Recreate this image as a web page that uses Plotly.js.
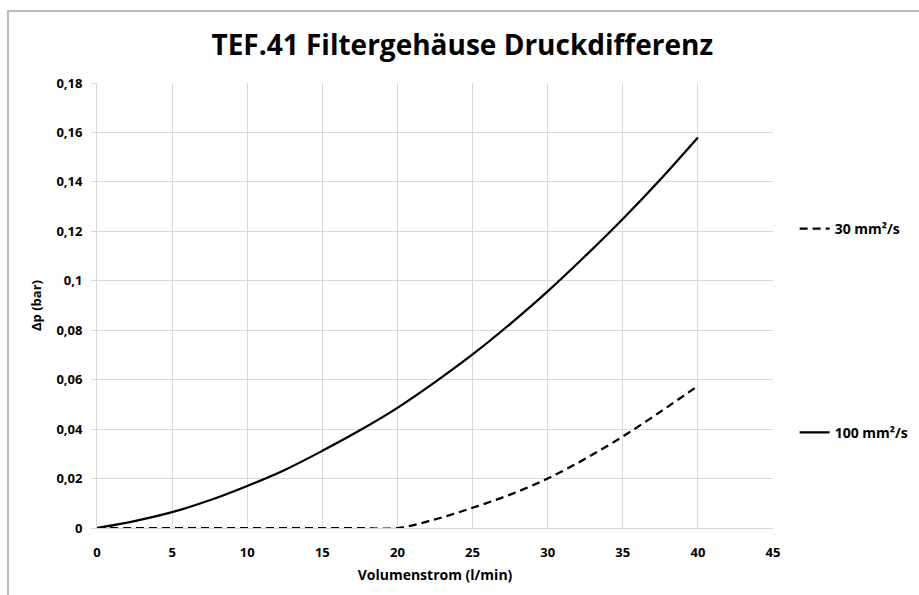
<!DOCTYPE html>
<html>
<head>
<meta charset="utf-8">
<script src="https://cdn.plot.ly/plotly-3.0.1.min.js"></script>
<style>html,body{margin:0;padding:0;background:#fff;}#chart{width:919px;height:595px;}</style>
</head>
<body>
<div id="chart"></div>
<script>
// Data
const flow = [0, 2.5, 5, 7.5, 10, 12.5, 15, 17.5, 20, 22.5, 25, 27.5, 30, 32.5, 35, 37.5, 40];
const dp30 = [0, 0, 0, 0, 0, 0, 0, 0, 0, 0.0035, 0.0082, 0.0135, 0.0200, 0.0280, 0.0370, 0.0470, 0.0575];
const dp100 = [0, 0.0028, 0.0064, 0.0112, 0.0170, 0.0235, 0.0312, 0.0395, 0.0486, 0.0590, 0.0702, 0.0825, 0.0957, 0.1100, 0.1250, 0.1410, 0.1580];
const seriesNames = ["30 mm²/s", "100 mm²/s"];
const xTickVals = [0, 5, 10, 15, 20, 25, 30, 35, 40, 45];
const yTickVals = [0, 0.02, 0.04, 0.06, 0.08, 0.1, 0.12, 0.14, 0.16, 0.18];
const yTickText = ["0", "0,02", "0,04", "0,06", "0,08", "0,1", "0,12", "0,14", "0,16", "0,18"];

const FONT = "Open Sans, Noto Sans, sans-serif";

const traces = [
  {
    x: flow, y: dp30, name: seriesNames[0], type: "scatter", mode: "lines",
    line: {color: "#000000", width: 2.25, dash: "8px,5px", shape: "spline"},
    legend: "legend"
  },
  {
    x: flow, y: dp100, name: seriesNames[1], type: "scatter", mode: "lines",
    line: {color: "#000000", width: 2.25, shape: "spline"},
    legend: "legend2"
  }
];

const legendCommon = {
  xref: "paper", yref: "paper", xanchor: "left", yanchor: "middle",
  bgcolor: "rgba(0,0,0,0)", borderwidth: 0,
  font: {family: FONT, size: 14, color: "#000", weight: "bold"},
  itemwidth: 30, tracegroupgap: 0
};

const layout = {
  width: 919, height: 595,
  paper_bgcolor: "#ffffff", plot_bgcolor: "#ffffff",
  margin: {l: 97, r: 146, t: 83, b: 67, autoexpand: false},
  separators: ",.",
  title: {
    text: "TEF.41 Filtergehäuse Druckdifferenz",
    font: {family: FONT, size: 28, color: "#000", weight: "bold"},
    xref: "container", x: 0.503, xanchor: "center",
    yref: "container", y: 0.924, yanchor: "middle"
  },
  xaxis: {
    range: [0, 45], tickvals: xTickVals, ticks: "",
    ticklabelstandoff: 12, automargin: false,
    showgrid: true, gridcolor: "#d9d9d9", gridwidth: 1,
    showline: true, linecolor: "#d9d9d9", linewidth: 1,
    zeroline: false,
    tickfont: {family: FONT, size: 13, color: "#000", weight: "bold"},
    title: {text: "Volumenstrom (l/min)", font: {family: FONT, size: 14, color: "#000", weight: "bold"}, standoff: 10}
  },
  yaxis: {
    range: [0, 0.18], tickvals: yTickVals, ticktext: yTickText,
    ticks: "outside", ticklen: 5, tickcolor: "#d9d9d9",
    ticklabelstandoff: 6, automargin: false,
    showgrid: true, gridcolor: "#d9d9d9", gridwidth: 1,
    showline: true, linecolor: "#d9d9d9", linewidth: 1,
    zeroline: false,
    tickfont: {family: FONT, size: 13, color: "#000", weight: "bold"},
    title: {text: "Δp (bar)", font: {family: FONT, size: 13, color: "#000", weight: "bold"}, standoff: 11}
  },
  showlegend: true,
  legend: Object.assign({x: 1.032, y: 0.672}, legendCommon),
  legend2: Object.assign({x: 1.032, y: 0.214}, legendCommon),
  shapes: [
    {type: "rect", xref: "paper", yref: "paper", x0: -0.1317, x1: 1.4, y0: -0.3, y1: 1.1618,
     line: {color: "#bdbdbd", width: 2}, fillcolor: "rgba(0,0,0,0)", layer: "below"}
  ]
};

Plotly.newPlot("chart", traces, layout, {displayModeBar: false, staticPlot: true});
</script>
</body>
</html>
